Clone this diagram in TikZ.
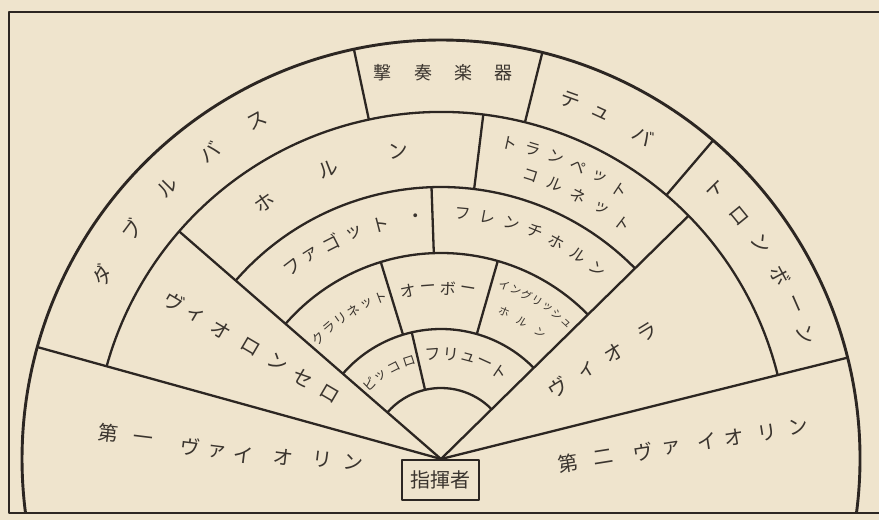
\documentclass[tikz,border=0pt]{standalone}
\usepackage{fontspec}
\setmainfont{Noto Sans CJK JP}
\definecolor{paper}{RGB}{239,228,205}
\definecolor{ink}{RGB}{44,38,34}
\definecolor{txt}{RGB}{58,52,46}
\begin{document}
\begin{tikzpicture}[x=1pt,y=1pt,line join=round,
  rule/.style={draw=ink,line width=2.3pt},
  rim/.style={draw=ink,line width=2.9pt},
  lbl/.style={text=txt,inner sep=0pt,font=\fontsize{18}{18}\selectfont},
  big/.style={lbl,font=\fontsize{20}{20}\selectfont},
  mid/.style={lbl,font=\fontsize{16}{16}\selectfont},
  sml/.style={lbl,font=\fontsize{13}{13}\selectfont},
  tiny/.style={lbl,font=\fontsize{11}{11}\selectfont}]
\useasboundingbox (0,0) rectangle (879,520);
\fill[paper] (0,0) rectangle (879,520);
\draw[draw=ink,line width=2pt] (879,508) -- (9,508) -- (9,7) -- (879,7);
\coordinate (A) at (441,61);
% arcs
\draw[rim] ([shift={(-7.4:419)}]A) arc[start angle=-7.4,end angle=187.4,radius=419];
\draw[rule] ([shift={(14:347)}]A) arc[start angle=14,end angle=164.5,radius=347];
\foreach \r in {272,206,130,71}
  \draw[rule] ([shift={(44.5:\r)}]A) arc[start angle=44.5,end angle=139,radius=\r];
% radial lines from apex
\foreach \a/\r in {164.5/419,14/419,139/347,44.5/347}
  \draw[rule] (A) -- ([shift={(\a:\r)}]A);
% dividers
\foreach \a/\ri/\ro in {102/347/419,76/347/419,49.5/347/419,83/272/347,92/206/272,107/130/206,74/130/206,103/71/130}
  \draw[rule] ([shift={(\a:\ri)}]A) -- ([shift={(\a:\ro)}]A);
% outer ring texts
\foreach \c/\a [count=\i] in {ダ/151.5,ブ/143.4,ル/135.2,バ/127,ス/118.6}
  \node[big,rotate=\a-90] (db\i) at ([shift={(\a:385)}]A) {\c};
\foreach \c/\x [count=\i] in {撃/382,奏/423,楽/463,器/503}
  \node[lbl] (pc\i) at (\x,447) {\c};
\foreach \c/\a [count=\i] in {テ/70.2,ュ/65.3,バ/58}
  \node[big,rotate=\a-90] (tu\i) at ([shift={(\a:381)}]A) {\c};
\foreach \c/\a [count=\i] in {ト/44.6,ロ/39.2,ン/33.9,ボ/28.4,ー/23.6,ン/18.9}
  \node[big,rotate=\a-90] (tb\i) at ([shift={(\a:385)}]A) {\c};
% horn ring
\foreach \c/\a [count=\i] in {ホ/124.5,ル/111.3,ン/97.8}
  \node[big,rotate=\a-90] (ho\i) at ([shift={(\a:311)}]A) {\c};
\foreach \c/\a [count=\i] in {ト/77.7,ラ/73.4,ン/69.2,ペ/64.9,ッ/60.7,ト/56.4}
  \node[mid,rotate=\a-90] (tp\i) at ([shift={(\a:323)}]A) {\c};
\foreach \c/\a [count=\i] in {コ/72.5,ル/67.5,ネ/62.5,ッ/57.4,ト/52.4}
  \node[mid,rotate=\a-90] (co\i) at ([shift={(\a:297)}]A) {\c};
% bassoon ring
\foreach \c/\a [count=\i] in {フ/127.6,ァ/122.5,ゴ/117,ッ/111,ト/104.5,・/96}
  \node[lbl,rotate=\a-90] (fg\i) at ([shift={(\a:242)}]A) {\c};
\foreach \c/\a [count=\i] in {フ/84.8,レ/79.1,ン/73.3,チ/67.6,ホ/61.9,ル/56.1,ン/50.4}
  \node[mid,rotate=\a-90] (fh\i) at ([shift={(\a:246)}]A) {\c};
% clarinet ring
\foreach \c/\a [count=\i] in {ク/135.5,ラ/130.5,リ/125.5,ネ/120.6,ッ/115.6,ト/110.6}
  \node[sml,rotate=\a-90] (cl\i) at ([shift={(\a:172)}]A) {\c};
\foreach \c/\a [count=\i] in {オ/101,ー/94.3,ボ/87.7,ー/81}
  \node[mid,rotate=\a-90] (ob\i) at ([shift={(\a:171)}]A) {\c};
\foreach \c/\a [count=\i] in {イ/70,ン/66.2,グ/62.5,リ/58.7,ッ/54.9,シ/51.2,ュ/47.4}
  \node[tiny,rotate=\a-90] (ei\i) at ([shift={(\a:185)}]A) {\c};
\foreach \c/\a [count=\i] in {ホ/66.8,ル/59.3,ン/51.8}
  \node[tiny,rotate=\a-90] (eh\i) at ([shift={(\a:160)}]A) {\c};
% flute ring
\foreach \c/\a [count=\i] in {ピ/133.8,ッ/126,コ/117,ロ/108}
  \node[sml,rotate=\a-90] (pi\i) at ([shift={(\a:103)}]A) {\c};
\foreach \c/\a [count=\i] in {フ/94.3,リ/84.7,ュ/75.1,ー/65.5,ト/55.9}
  \node[mid,rotate=\a-90] (fl\i) at ([shift={(\a:105)}]A) {\c};
% cello and viola (radial)
\foreach \c/\r [count=\i] in {ヴ/310,ィ/284,オ/255,ロ/221,ン/190,セ/160,ロ/129}
  \node[big,rotate=-30.5] (vc\i) at ([shift={(149.5:\r)}]A) {\c};
\foreach \c/\r [count=\i] in {ヴ/137,ィ/171,オ/203,ラ/242}
  \node[big,rotate=31.5] (va\i) at ([shift={(31.5:\r)}]A) {\c};
% violins
\foreach \c/\x/\y [count=\i] in {第/108/433,一/143/440,ヴ/190/447,ァ/217/452,イ/243/455,オ/283/457,リ/322/460,ン/353/463}
  \node[big,rotate=-7] (vi\i) at (\x,520-\y) {\c};
\foreach \c/\x/\y [count=\i] in {第/568/463,二/603/457,ヴ/643/452,ァ/672/448,イ/707/442,オ/734/437,リ/767/433,ン/798/427}
  \node[big,rotate=9] (vt\i) at (\x,520-\y) {\c};
% conductor
\node[draw=ink,line width=2pt,minimum width=77pt,minimum height=40pt,big] (cond) at (440.5,40) {指揮者};
\end{tikzpicture}
\end{document}
